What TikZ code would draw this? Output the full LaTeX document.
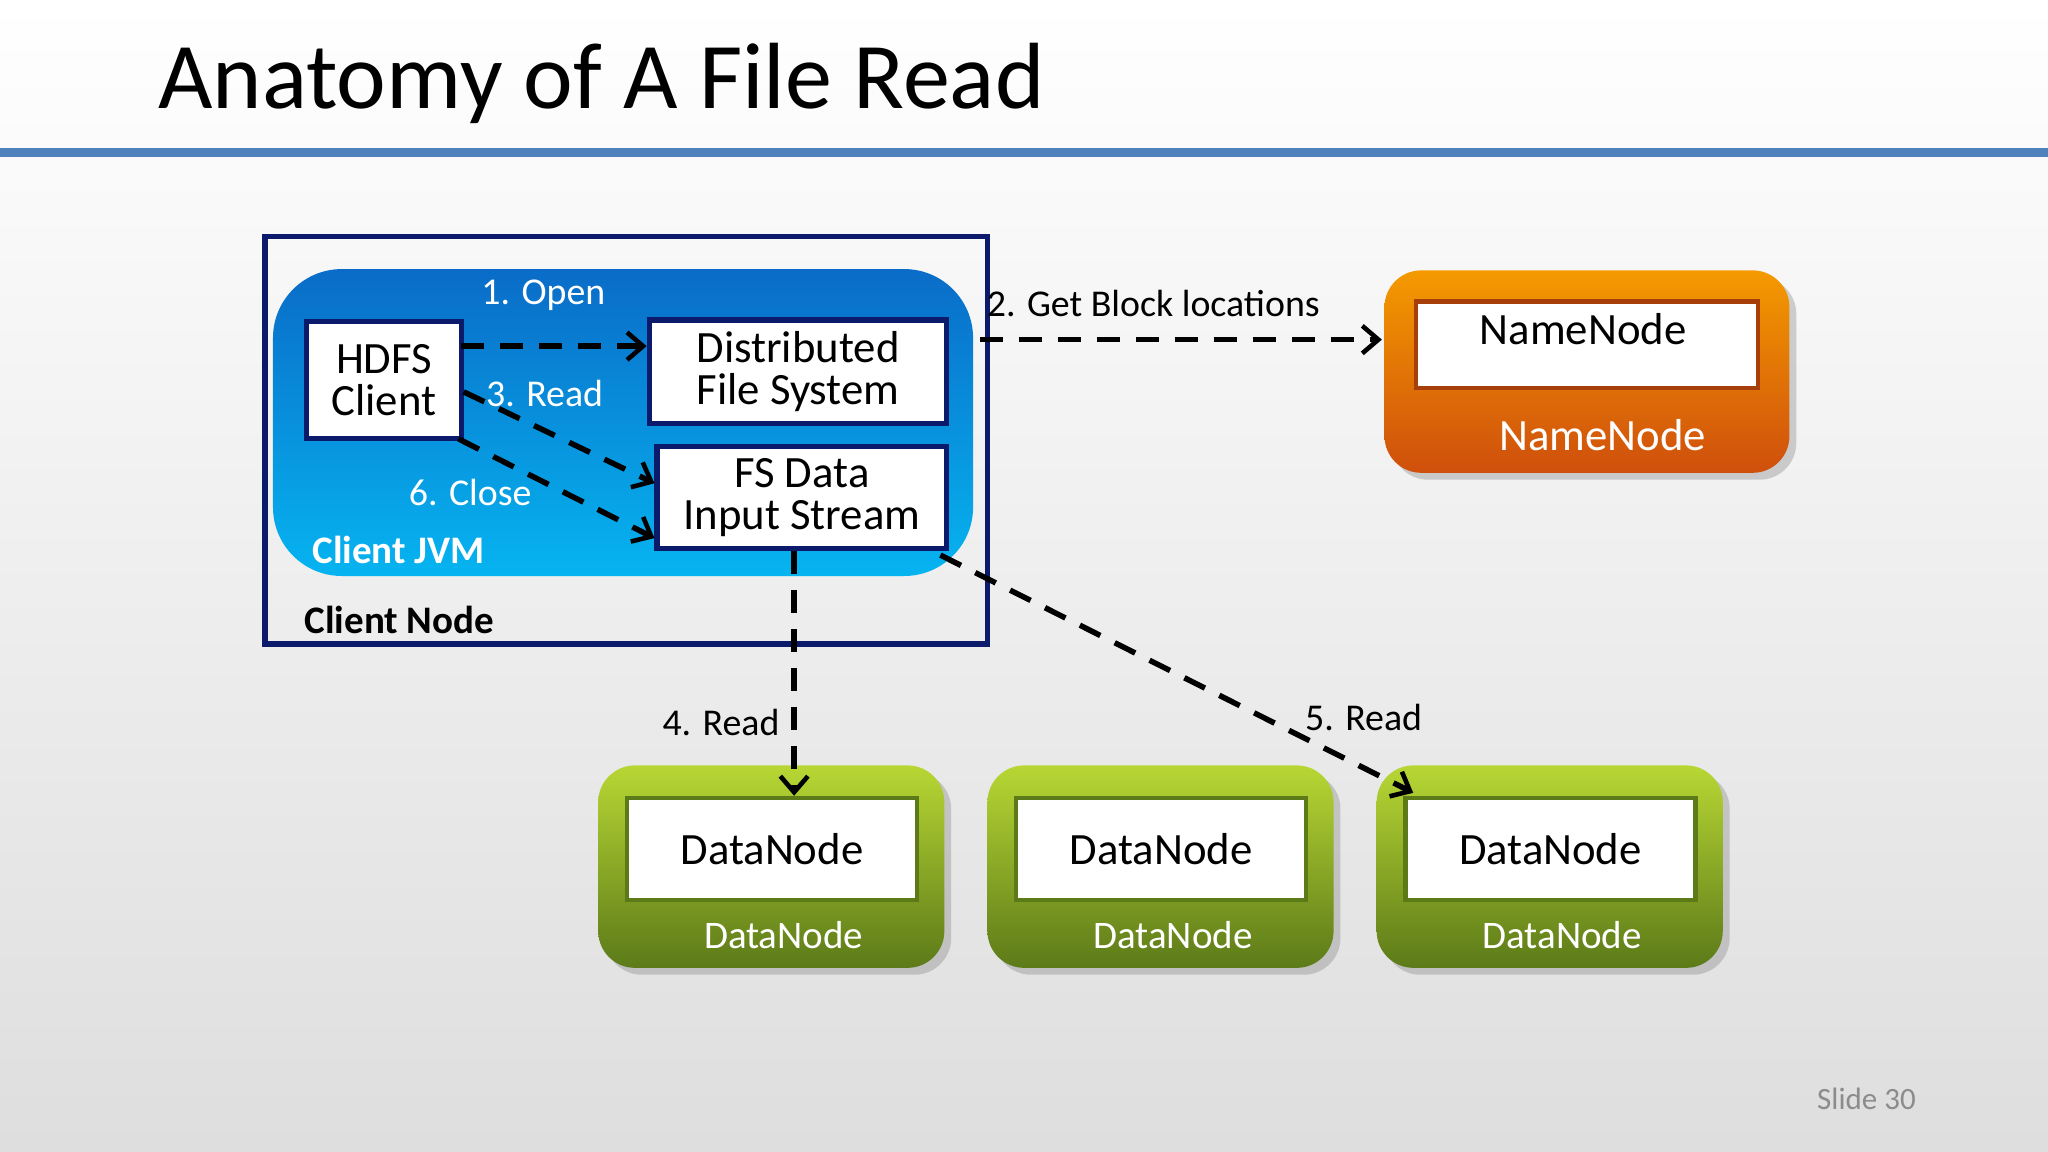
\documentclass[tikz,border=0pt]{standalone}
\usepackage{fontspec}
\setmainfont{Carlito}
\usetikzlibrary{arrows.meta,shadows}
\definecolor{navy}{HTML}{0B1A6B}
\definecolor{jvmtop}{HTML}{0A6CC8}
\definecolor{jvmbot}{HTML}{06B4F0}
\definecolor{ortop}{HTML}{F49A00}
\definecolor{orbot}{HTML}{CF4F0C}
\definecolor{grtop}{HTML}{B8D734}
\definecolor{grbot}{HTML}{5C7A18}
\tikzset{
  fs/.style={font=\fontsize{#1}{#1}\selectfont},
  fsb/.style={font=\fontsize{#1}{#1}\selectfont\bfseries},
  box/.style={draw=navy,line width=2.2pt,fill=white,align=center,inner sep=0pt},
  arr/.style={line width=2.4pt,dash pattern=on 10pt off 7pt,-{Straight Barb[length=7pt,width=12pt,line width=2pt]}},
  wlbl/.style={text=white,fs=16.5},
  blbl/.style={text=black,fs=16.5},
  outer/.style={rounded corners=16pt,drop shadow={shadow xshift=3pt,shadow yshift=-3pt,opacity=.35}},
}
\begin{document}
\begin{tikzpicture}[x=0.02cm,y=-0.02cm]
\shade[top color=white,bottom color=black!13] (0,0) rectangle (1568,882);
\useasboundingbox (0,0) rectangle (1568,882);
\node[anchor=west,fs=41] (title) at (115,64) {Anatomy of A File Read};
\draw[line width=4pt,color={rgb,255:red,79;green,129;blue,189}] (0,117) -- (1568,117);
% client node
\node[draw=navy,line width=2.5pt,minimum width=553*0.02cm,minimum height=312*0.02cm,inner sep=0pt] (cn) at (479.5,337) {};
\shade[top color=jvmtop,bottom color=jvmbot,rounded corners=30pt] (209,206) rectangle (745,441);
\node[anchor=west,text=white,fsb=17] (jvm) at (233,421) {Client JVM};
\node[anchor=west,fsb=17] (cnl) at (227,475) {Client Node};
\node[box,minimum width=118*0.02cm,minimum height=90*0.02cm,fs=19.5] (hdfs) at (294,291) {HDFS\\[-1pt]Client};
\node[box,minimum width=228*0.02cm,minimum height=79*0.02cm,fs=19.5] (dfs) at (611,284.5) {Distributed\\[-1pt]File System};
\node[box,minimum width=222*0.02cm,minimum height=78*0.02cm,fs=19.5] (fsd) at (614,381) {FS Data\\[-1pt]Input Stream};
% namenode
\shade[outer,top color=ortop,bottom color=orbot] (1060,207) rectangle (1370,362);
\node[draw=orbot!80!black,line width=2pt,fill=white,minimum width=262*0.02cm,minimum height=66*0.02cm,inner sep=0pt] (nnin) at (1215,264) {};
\node[fs=19.5] (nnt) at (1212,252) {NameNode};
\node[wlbl,fs=19.5] (nnl) at (1227,333) {NameNode};
% datanodes
\foreach \i/\x in {1/458,2/756,3/1054}{
  \shade[outer,top color=grtop,bottom color=grbot] (\x,586) rectangle (\x+265,741);
  \node[draw=grbot,line width=2pt,fill=white,minimum width=222*0.02cm,minimum height=78*0.02cm,inner sep=0pt,fs=19.5] (dn\i) at (\x+133,650) {DataNode};
  \node[wlbl,fs=17] (dnl\i) at (\x+142,716) {DataNode};
}
% labels
\node[wlbl] (l1) at (416,226) {1. Open};
\node[wlbl] (l3) at (417,301) {3. Read};
\node[wlbl] (l6) at (360,377) {6. Close};
\node[blbl] (l2) at (883,232) {2. Get Block locations};
\node[blbl] (l4) at (552,553) {4. Read};
\node[blbl] (l5) at (1044,549) {5. Read};
\node[text=black!45,fs=13.5] (slide) at (1429,841) {Slide 30};
% arrows
\coordinate (a1) at (353,265);
\coordinate (a3) at (355,300);
\coordinate (a6) at (351,336);
\coordinate (a2) at (750,260);
\coordinate (nnE) at (1058,260);
\coordinate (a5) at (720,425);
\coordinate (d3) at (1082,607);
\draw[arr] (a1) -- (dfs.west |- a1);
\draw[arr] (a3) -- (fsd.west |- 0,370);
\draw[arr] (a6) -- (fsd.west |- 0,412);
\draw[arr] (a2) -- (nnE);
\draw[arr] (fsd.south -| 608,0) -- (dn1.north -| 608,0);
\draw[arr] (a5) -- (d3);
\end{tikzpicture}
\end{document}
